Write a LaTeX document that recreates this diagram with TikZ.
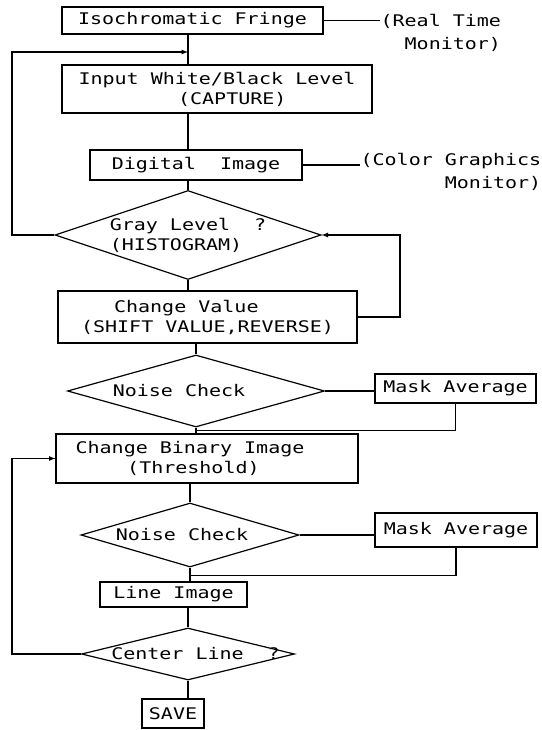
\documentclass[tikz,border=0pt]{standalone}
\usepackage{fontspec}
\usepackage{tikz}
\usetikzlibrary{shapes.geometric}
\newfontfamily\plotfont[FakeStretch=1.25]{DejaVu Sans Mono}
\newlength\cw
\setlength\cw{12pt}
\newcommand\ind[1]{\hspace*{#1\cw}}

\begin{document}
\begin{tikzpicture}[x=1pt,y=-1pt,line width=1.2pt,>=latex,
    font={\plotfont\fontsize{16}{20}\selectfont},
    box/.style={draw,rectangle,inner sep=0pt,align=left},
    decision/.style={draw,diamond,inner sep=0pt,align=left},
    note/.style={inner sep=0pt,align=right,anchor=north west,font={\plotfont\fontsize{16}{23}\selectfont}}]
\useasboundingbox (0,0) rectangle (541,730);

\node[box,minimum width=261pt,minimum height=27pt] (fringe) at (192.5,20.5) {Isochromatic Fringe};
\node[note] (rtm) at (380,14) {(Real Time\\Monitor)};
\node[box,minimum width=310pt,minimum height=48pt] (input) at (217,89) {Input White/Black Level\\\ind{8.3}(CAPTURE)};
\node[box,minimum width=212pt,minimum height=30pt] (digital) at (196,165) {Digital\ind{2}Image};
\node[note] (cgm) at (360,153) {(Color Graphics\\Monitor)};
\node[decision,shape aspect=3,minimum width=266pt,minimum height=89pt] (gray) at (188,235) {Gray Level\ind{2}?\\(HISTOGRAM)};
\node[box,minimum width=299pt,minimum height=52pt] (chval) at (207.5,317) {\ind{2.75}Change Value\\(SHIFT VALUE,REVERSE)};
\node[decision,shape aspect=3.5,minimum width=257pt,minimum height=72pt] (noise1) at (196,391) {Noise Check\hspace*{34pt}};
\node[box,minimum width=161pt,minimum height=29pt] (mask1) at (455.5,388.5) {Mask Average};
\node[box,minimum width=302pt,minimum height=49pt] (binary) at (207,458.5) {Change Binary Image\hspace*{34pt}\\\ind{4.3}(Threshold)};
\node[decision,shape aspect=3.4,minimum width=218pt,minimum height=64pt] (noise2) at (190,535) {Noise Check\hspace*{16pt}};
\node[box,minimum width=162pt,minimum height=34pt] (mask2) at (456,530) {Mask Average};
\node[box,minimum width=147pt,minimum height=25pt] (lineimg) at (173.5,594.5) {Line Image};
\node[decision,shape aspect=4,minimum width=213pt,minimum height=52pt] (cline) at (188,654) {\makebox[0pt]{\hspace*{15pt}Center Line\ind{2}?}};
\node[box,minimum width=62pt,minimum height=29pt] (save) at (173,713.5) {SAVE};

\coordinate (leftrail) at (12,0);
\coordinate (rightrail) at (400,0);
\coordinate (join) at (gray.north |- 0,52);

\draw (fringe.east) -- (fringe.east -| rtm.west);
\draw (digital.east) -- (digital.east -| cgm.west);
\draw (gray.north |- fringe.south) -- (gray.north |- input.north);
\draw (gray.north |- input.south) -- (gray.north |- digital.north);
\draw (gray.north |- digital.south) -- (gray.north);
\draw[->] (gray.west) -- (gray.west -| leftrail) |- (join);
\draw (gray.south) -- (gray.south |- chval.north);
\draw[->] (chval.east) -- (chval.east -| rightrail) |- (gray.east);
\draw (noise1.north |- chval.south) -- (noise1.north);
\draw (noise1.east) -- (noise1.east -| mask1.west);
\draw (noise1.south) -- (noise1.south |- binary.north);
\draw (mask1.south) |- ([yshift=-3pt]noise1.south);
\draw[->] (cline.west) -- (cline.west -| leftrail) |- (binary.west);
\draw (noise2.north |- binary.south) -- (noise2.north);
\draw (noise2.east) -- (noise2.east -| mask2.west);
\draw (noise2.south) -- (noise2.south |- lineimg.north);
\draw (mask2.south) |- ([yshift=-8pt]noise2.south);
\draw (cline.north |- lineimg.south) -- (cline.north);
\draw (cline.south) -- (cline.south |- save.north);
\end{tikzpicture}
\end{document}
